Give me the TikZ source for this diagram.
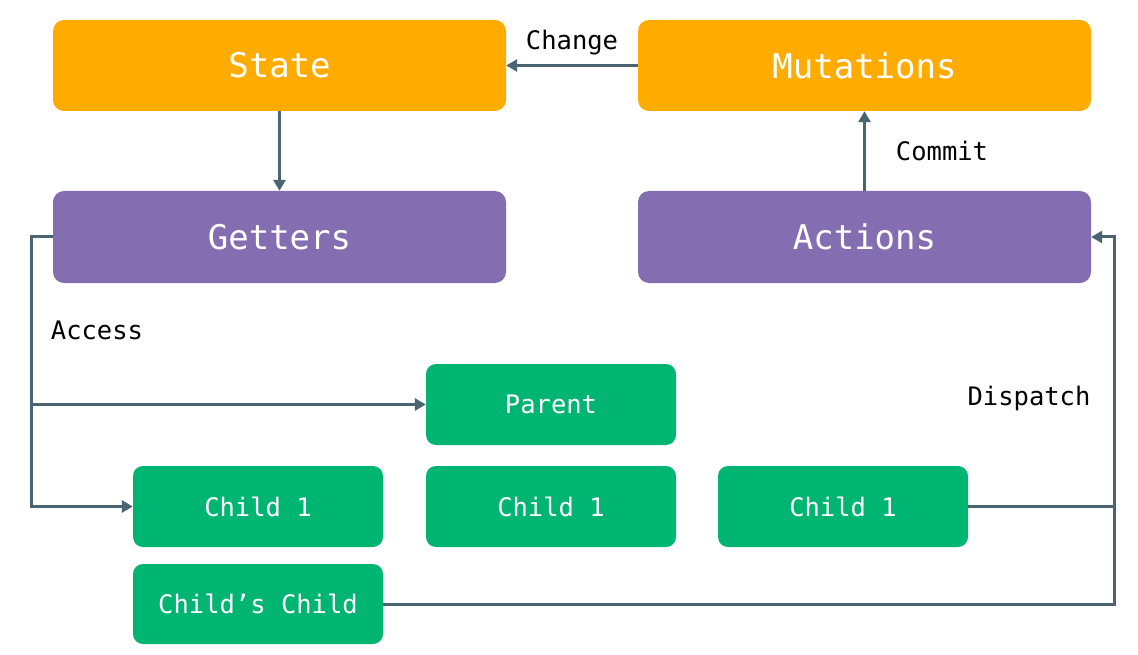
\documentclass[tikz,border=0pt]{standalone}
\usepackage{fontspec}
\setmonofont{DejaVu Sans Mono}
\usetikzlibrary{arrows.meta}
\definecolor{vorange}{HTML}{FFAB00}
\definecolor{vpurple}{HTML}{846DB1}
\definecolor{vgreen}{HTML}{00B471}
\definecolor{vline}{HTML}{4B6471}
\begin{document}
\begin{tikzpicture}[x=1pt,y=-1pt,
  bigbox/.style={rounded corners=11pt, minimum width=453pt, minimum height=91pt, inner sep=0pt, text=white, font=\ttfamily\fontsize{34}{40}\selectfont},
  smallbox/.style={rounded corners=10pt, fill=vgreen, minimum width=250pt, minimum height=81pt, inner sep=0pt, text=white, font=\ttfamily\fontsize{25.5}{30}\selectfont},
  lbl/.style={text=black, font=\ttfamily\fontsize{25.5}{30}\selectfont, inner sep=0pt},
  conn/.style={draw=vline, line width=3pt},
  arr/.style={conn, -{Triangle[length=11pt,width=12pt]}}
]
\useasboundingbox[fill=white] (0,0) rectangle (1138,655);
\node[bigbox, fill=vorange] (state) at (279.5,65.5) {State};
\node[bigbox, fill=vorange] (mut) at (864.5,65.5) {Mutations};
\node[bigbox, fill=vpurple, minimum height=92pt] (getters) at (279.5,237) {Getters};
\node[bigbox, fill=vpurple, minimum height=92pt] (actions) at (864.5,237) {Actions};
\node[smallbox] (parent) at (551,404.5) {Parent};
\node[smallbox] (ca) at (258,506.5) {Child 1};
\node[smallbox] (cb) at (551,506.5) {Child 1};
\node[smallbox] (cc) at (843,506.5) {Child 1};
\node[smallbox, minimum height=80pt] (gc) at (258,604) {Child’s Child};

\node[lbl] (change) at (572,43) {Change};
\node[lbl] (commit) at (942,151) {Commit};
\node[lbl] (access) at (97,330) {Access};
\node[lbl] (dispatch) at (1029,398) {Dispatch};

\coordinate (lt) at (31,237);
\coordinate (lm) at (31,404.5);
\coordinate (lb) at (31,506.5);
\coordinate (rt) at (1114,237);
\coordinate (rm) at (1114,506.5);
\coordinate (rb) at (1114,604);

\draw[arr] (mut.west) -- (state.east);
\draw[arr] (state.south) -- (getters.north);
\draw[arr] (actions.north) -- (mut.south);
\draw[arr] (getters.west) -- (lt) -- (lb) -- (ca.west);
\draw[arr] (lm) -- (parent.west);
\draw[arr] (gc.east) -- (rb) -- (rt) -- (actions.east);
\draw[conn] (cc.east) -- (rm);
\end{tikzpicture}
\end{document}
